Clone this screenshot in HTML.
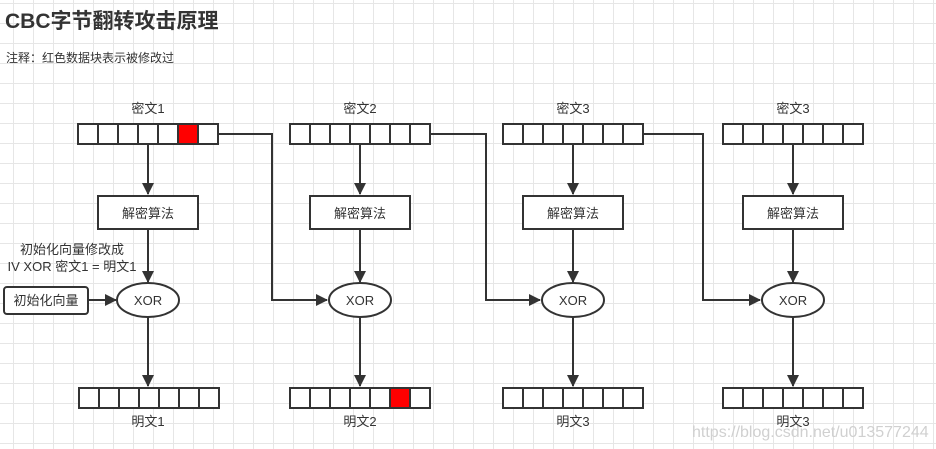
<!DOCTYPE html>
<html><head><meta charset="utf-8"><style>
body{margin:0;width:936px;height:449px;overflow:hidden;background:#fff;
background-image:linear-gradient(#e6e6e6 1px,transparent 1px),linear-gradient(90deg,#e6e6e6 1px,transparent 1px);
background-size:20px 20px;background-position:13px 3px;}
svg{position:absolute;left:0;top:0}
text{font-family:"Liberation Sans","Noto Sans CJK SC",sans-serif;fill:#333}
</style></head><body>
<svg width="936" height="449" xmlns="http://www.w3.org/2000/svg">
<defs><marker id="a" markerWidth="12" markerHeight="12" refX="11" refY="6" orient="auto" markerUnits="userSpaceOnUse"><path d="M0,0 L12,6 L0,12 z" fill="#333"/></marker></defs>
<text x="5" y="28" font-size="21" font-weight="bold">CBC字节翻转攻击原理</text>
<text x="6" y="62" font-size="12">注释：红色数据块表示被修改过</text>
<g stroke="#333" stroke-width="2" fill="none">
<path d="M148,144 V194" marker-end="url(#a)"/>
<path d="M148,229 V282" marker-end="url(#a)"/>
<path d="M148,317 V386" marker-end="url(#a)"/>
<path d="M88,300 H116" marker-end="url(#a)"/>
<path d="M360,144 V194" marker-end="url(#a)"/>
<path d="M360,229 V282" marker-end="url(#a)"/>
<path d="M360,317 V386" marker-end="url(#a)"/>
<path d="M573,144 V194" marker-end="url(#a)"/>
<path d="M573,229 V282" marker-end="url(#a)"/>
<path d="M573,317 V386" marker-end="url(#a)"/>
<path d="M793,144 V194" marker-end="url(#a)"/>
<path d="M793,229 V282" marker-end="url(#a)"/>
<path d="M793,317 V386" marker-end="url(#a)"/>
<path d="M217,134 H272 V300 H327" marker-end="url(#a)"/>
<path d="M429,134 H486 V300 H540" marker-end="url(#a)"/>
<path d="M642,134 H703 V300 H760" marker-end="url(#a)"/>
</g>
<g stroke="#333" stroke-width="2" fill="#fff">
<rect x="98" y="196" width="100" height="33"/>
<rect x="310" y="196" width="100" height="33"/>
<rect x="523" y="196" width="100" height="33"/>
<rect x="743" y="196" width="100" height="33"/>
<rect x="4" y="287" width="84" height="27" rx="3"/>
<ellipse cx="148" cy="300" rx="31" ry="17"/>
<ellipse cx="360" cy="300" rx="31" ry="17"/>
<ellipse cx="573" cy="300" rx="31" ry="17"/>
<ellipse cx="793" cy="300" rx="31" ry="17"/>
</g>
<g stroke="#333" stroke-width="2" fill="#fff" id="cells"></g>
<g font-size="13" text-anchor="middle">
<text x="148" y="113">密文1</text><text x="360" y="113">密文2</text><text x="573" y="113">密文3</text><text x="793" y="113">密文3</text>
<text x="148" y="218">解密算法</text><text x="360" y="218">解密算法</text><text x="573" y="218">解密算法</text><text x="793" y="218">解密算法</text>
<text x="148" y="305">XOR</text><text x="360" y="305">XOR</text><text x="573" y="305">XOR</text><text x="793" y="305">XOR</text>
<text x="46" y="305">初始化向量</text>
<text x="72" y="254">初始化向量修改成</text>
<text x="72" y="271">IV XOR 密文1 = 明文1</text>
<text x="148" y="426">明文1</text><text x="360" y="426">明文2</text><text x="573" y="426">明文3</text><text x="793" y="426">明文3</text>
</g>
<text x="692" y="437" font-size="16" style="fill:#d0d0d0">https://blog.csdn.net/u013577244</text>
</svg>
<script>
var g=document.getElementById('cells'),ns='http://www.w3.org/2000/svg';
function row(x,y,red){for(var i=0;i<7;i++){var r=document.createElementNS(ns,'rect');r.setAttribute('x',x+i*20);r.setAttribute('y',y);r.setAttribute('width',20);r.setAttribute('height',20);if(i===red)r.setAttribute('fill','#f00');g.appendChild(r);}}
row(78,124,5);row(290,124,-1);row(503,124,-1);row(723,124,-1);
row(79,388,-1);row(290,388,5);row(503,388,-1);row(723,388,-1);
</script>
</body></html>
